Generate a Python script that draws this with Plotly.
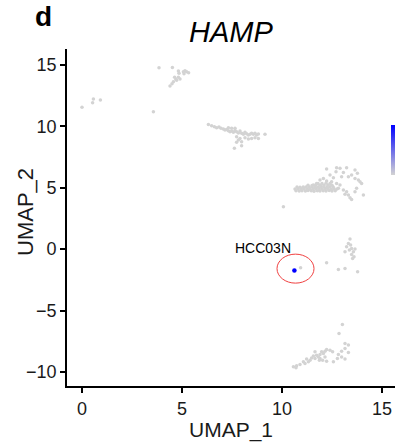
import plotly.graph_objects as go

# grey (non-expressing) cells: UMAP_1, UMAP_2
grey_x = [
    0.0, 0.53, 0.57, 0.92, 3.57,
    3.85, 4.52, 4.82, 4.85, 5.07, 5.15, 5.23, 5.33, 5.1, 4.63, 4.82, 4.7, 4.9, 4.57, 4.5, 4.4, 4.73,
    6.32, 6.48, 6.62, 6.73, 6.85, 6.95, 7.07, 7.15, 7.23, 7.32, 7.4, 7.48, 7.57, 7.65, 7.73, 7.82, 7.9,
    7.98, 8.07, 8.15, 8.23, 8.32, 8.4, 8.48, 8.57, 8.65, 8.73, 8.82, 9.15, 7.73, 7.9, 7.82, 7.98, 7.73,
    8.15, 8.32, 8.48, 8.65, 8.82, 7.98, 7.62, 7.32, 7.48, 7.65,
    12.23, 12.73, 12.9, 13.23, 12.7, 13.07, 13.65, 13.77, 12.4, 12.57, 12.98, 13.32, 13.48, 13.65, 13.82,
    13.9, 13.98, 12.07, 11.9, 12.23, 12.48, 12.73, 12.9, 12.82, 13.07, 13.23, 13.32, 13.4, 13.48, 13.15,
    13.73, 13.65, 14.07, 10.07, 11.73, 11.57,
    10.7, 10.86, 11.0, 11.17, 11.3, 11.46, 11.6, 11.77, 11.9, 12.06, 12.2, 12.36, 12.5, 12.66,
    10.65, 10.8, 10.96, 11.1, 11.26, 11.4, 11.56, 11.7, 11.86, 12.0, 12.16, 12.3, 12.46, 12.6, 12.75,
    10.75, 10.9, 11.06, 11.2, 11.36, 11.5, 11.66, 11.8, 11.96, 12.1, 12.26, 12.4, 12.56,
    11.3, 11.5, 11.7, 11.9, 12.1, 12.3, 12.5, 11.8, 12.0, 12.2, 12.4,
    13.4, 13.32, 13.43, 13.23, 13.48, 13.37, 13.57, 13.48, 13.6, 13.53, 13.65, 13.15, 12.23, 12.82, 13.15,
    13.78, 10.93,
    13.02, 12.85, 13.15, 13.32, 13.15, 13.32, 12.98, 12.82, 12.98, 12.77, 13.15, 12.53, 12.4, 12.23, 12.15,
    11.98, 12.07, 11.9, 11.73, 11.82, 11.57, 11.65, 11.48, 11.4, 11.23, 11.32, 11.07, 11.15, 10.9, 10.73,
    10.57, 10.7, 11.9, 12.15, 12.23, 12.57, 11.65, 11.87, 12.03,
]
grey_y = [
    11.55, 11.92, 12.22, 12.14, 11.19,
    14.78, 14.8, 14.5, 14.32, 14.45, 14.53, 14.45, 14.37, 14.29, 14.0, 14.0, 13.83, 13.86, 13.64, 13.47, 13.28, 13.75,
    10.16, 10.05, 9.97, 9.89, 9.94, 9.84, 9.78, 9.7, 9.75, 9.64, 9.56, 9.62, 9.51, 9.67, 9.56, 9.45, 9.62,
    9.43, 9.35, 9.51, 9.4, 9.29, 9.35, 9.43, 9.35, 9.43, 9.29, 9.37, 9.35, 9.15, 9.02, 8.88, 8.74, 8.7,
    9.07, 8.96, 9.02, 9.07, 9.02, 8.42, 8.21, 9.89, 9.84, 9.84,
    6.52, 6.63, 6.58, 6.63, 6.3, 6.25, 6.44, 6.17, 6.03, 5.81, 5.89, 5.89, 6.03, 5.76, 5.62,
    5.49, 5.35, 5.76, 5.62, 5.54, 5.49, 5.35, 5.22, 4.95, 4.81, 4.67, 4.4, 4.18, 4.05, 4.46,
    4.95, 4.67, 4.4, 3.45, 5.35, 5.22,
    4.75, 4.73, 4.76, 4.74, 4.77, 4.75, 4.72, 4.76, 4.74, 4.75, 4.73, 4.77, 4.74, 4.76,
    4.9, 4.92, 4.89, 4.91, 4.9, 4.88, 4.92, 4.9, 4.91, 4.89, 4.92, 4.9, 4.88, 4.91, 4.9,
    5.05, 5.04, 5.06, 5.05, 5.03, 5.06, 5.05, 5.04, 5.07, 5.05, 5.04, 5.06, 5.05,
    5.2, 5.18, 5.22, 5.2, 5.19, 5.21, 5.2, 5.35, 5.34, 5.36, 5.35,
    0.82, 0.46, 0.33, 0.19, 0.06, -0.08, -0.22, -0.43, -0.63, -0.76, 0.0, -0.22, -1.11, -1.66, -1.58,
    -1.85, -1.52,
    -6.14, -6.87, -7.69, -7.82, -8.09, -8.42, -8.31, -8.58, -8.78, -8.91, -8.96, -8.37, -8.23, -8.18, -8.31,
    -8.37, -8.5, -8.58, -8.64, -8.78, -8.7, -8.91, -8.86, -9.05, -8.96, -9.18, -9.18, -9.32, -9.4, -9.51,
    -9.59, -9.67, -8.91, -8.78, -9.13, -9.18, -8.37, -9.05, -9.05,
]

# expressing cell(s)
expr_x = [10.62]
expr_y = [-1.74]
expr_val = [1.0]

x_ticks = [0, 5, 10, 15]
y_ticks = [-10, -5, 0, 5, 10, 15]

FONT = "Liberation Sans, Arial, sans-serif"

L, R, T, B = 67, 0, 49, 60
W, H = 395, 446
pw, ph = W - L - R, H - T - B


def px_x(p):
    return (p - L) / pw


def px_y(p):
    return (H - B - p) / ph


fig = go.Figure()
fig.add_trace(go.Scatter(
    x=grey_x, y=grey_y, mode="markers",
    marker=dict(size=3.5, color="#d3d3d3"),
    hoverinfo="skip", showlegend=False,
))
fig.add_trace(go.Scatter(
    x=expr_x, y=expr_y, mode="markers",
    marker=dict(
        size=4.5, color=expr_val, cmin=0, cmax=1,
        colorscale=[[0, "#d3d3d3"], [1, "#0000ff"]],
        showscale=True,
        colorbar=dict(
            x=px_x(391), xanchor="left", xref="paper", xpad=0, ypad=0,
            y=px_y(150), yanchor="middle",
            len=50, lenmode="pixels", thickness=12,
            showticklabels=False, ticks="", outlinewidth=0,
        ),
    ),
    showlegend=False,
))

# red circle around the HCC03N cells
fig.add_shape(type="circle", xref="x", yref="y",
              x0=9.75, x1=11.6, y0=-2.77, y1=-0.41,
              line=dict(color="#f04040", width=1))

fig.add_annotation(x=9.05, y=0.1, xref="x", yref="y", text="HCC03N",
                   showarrow=False, font=dict(family=FONT, size=14, color="black"))
fig.add_annotation(x=0.5, y=px_y(32), xref="paper", yref="paper", text="<i>HAMP</i>",
                   xanchor="center", yanchor="middle",
                   showarrow=False, font=dict(family=FONT, size=29, color="black"))
fig.add_annotation(x=px_x(43), y=px_y(16), xref="paper", yref="paper", text="<b>d</b>",
                   xanchor="center", yanchor="middle", showarrow=False,
                   font=dict(family=FONT, size=28, color="black"))
fig.add_annotation(x=px_x(25), y=px_y(212), xref="paper", yref="paper", text="UMAP_2",
                   textangle=-90, xanchor="center", yanchor="middle", showarrow=False,
                   font=dict(family=FONT, size=22, color="#1a1a1a"))

axis_common = dict(
    showgrid=False, zeroline=False, showline=True, linecolor="black", linewidth=1.8,
    ticks="outside", ticklen=5, tickwidth=1.5, tickcolor="black",
    tickfont=dict(family=FONT, size=18, color="#1a1a1a"),
    mirror=False,
)
fig.update_xaxes(range=[-0.75, 15.65], tickvals=x_ticks, **axis_common,
                 title=dict(text="UMAP_1", font=dict(family=FONT, size=21, color="#1a1a1a"), standoff=4))
fig.update_yaxes(range=[-11.15, 16.3], tickvals=y_ticks, **axis_common)

fig.update_layout(
    width=W, height=H,
    margin=dict(l=L, r=R, t=T, b=B, autoexpand=False),
    plot_bgcolor="white", paper_bgcolor="white",
    font=dict(family=FONT),
)

fig.write_html("out.html")
